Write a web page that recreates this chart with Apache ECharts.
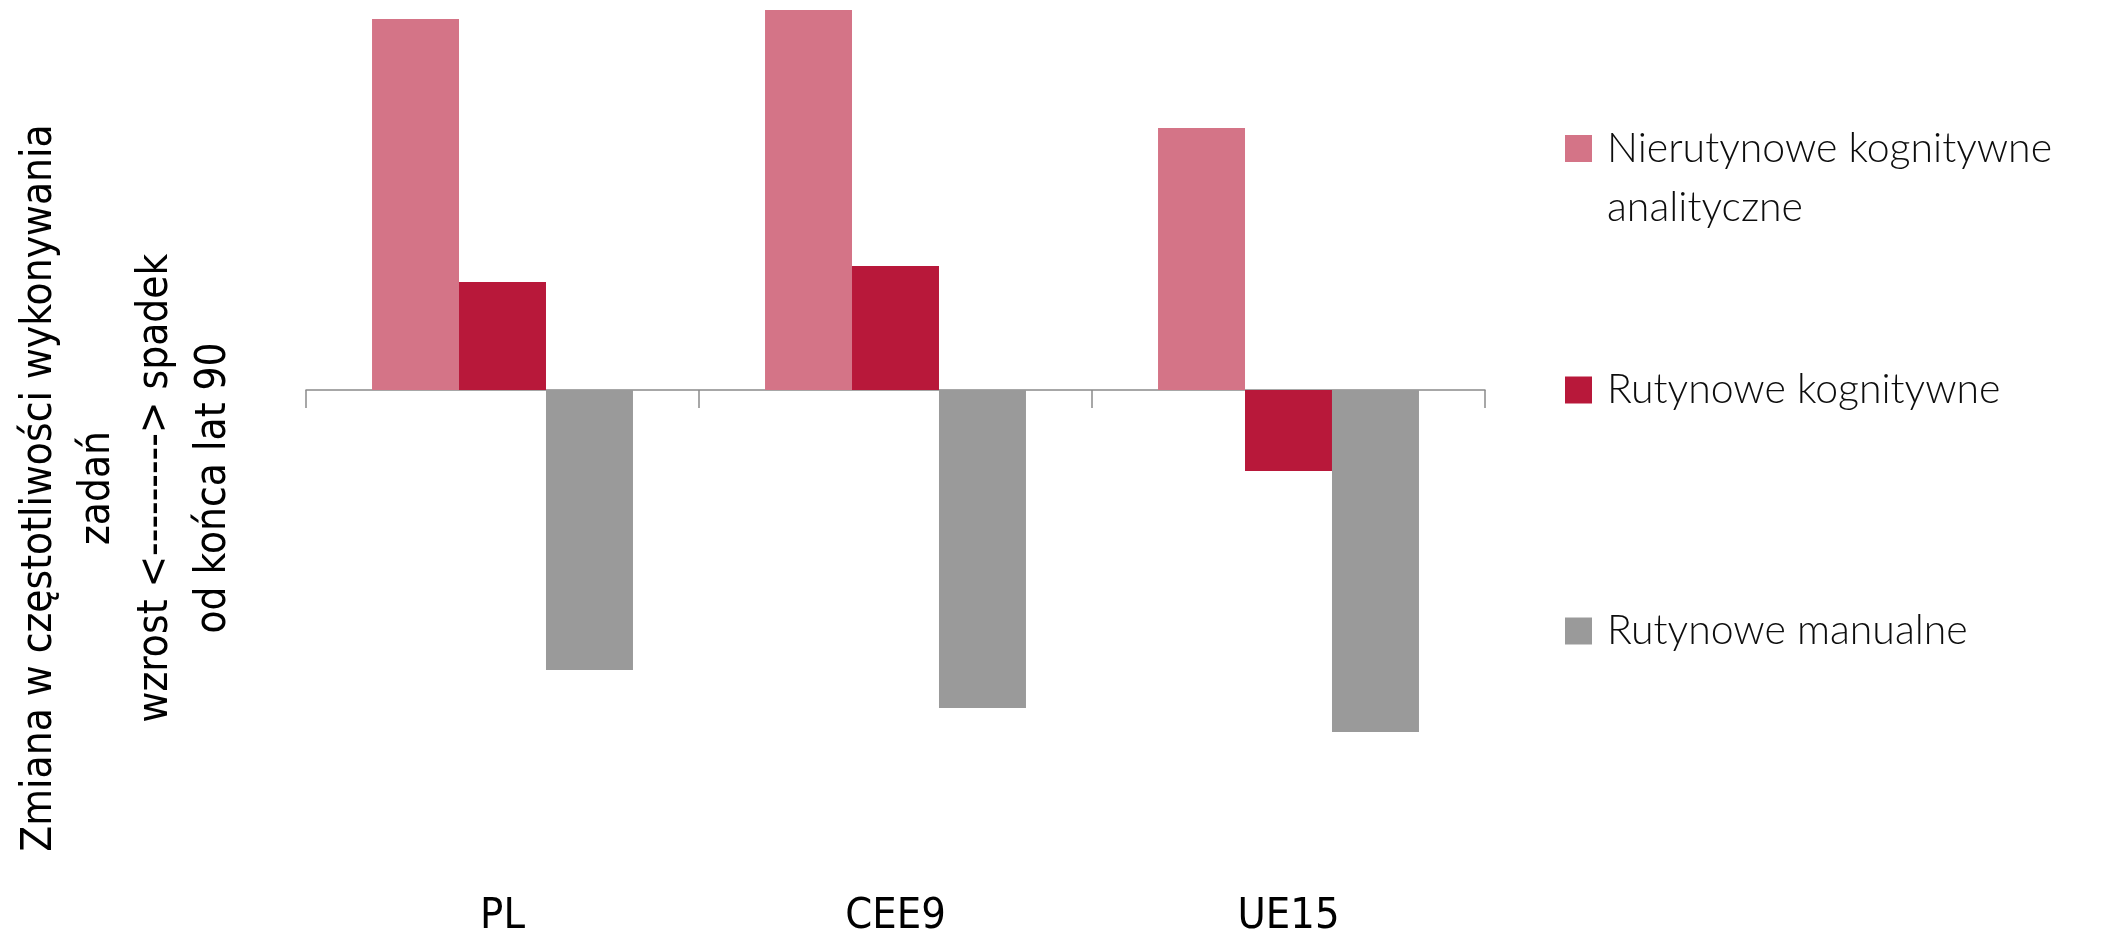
<!DOCTYPE html>
<html>
<head>
<meta charset="utf-8">
<script src="https://cdn.jsdelivr.net/npm/echarts@6/dist/echarts.min.js"></script>
<style>
html,body{margin:0;padding:0;background:#fff;}
#chart{width:2106px;height:929px;}
</style>
</head>
<body>
<div id="chart"></div>
<script>
const categories = ['PL', 'CEE9', 'UE15'];
const seriesNames = ['Nierutynowe kognitywne analityczne', 'Rutynowe kognitywne', 'Rutynowe manualne'];
const nierutynoweKognitywneAnalityczne = [3.71, 3.80, 2.62];
const rutynoweKognitywne = [1.08, 1.24, -0.81];
const rutynoweManualne = [-2.80, -3.18, -3.42];
const colors = ['#D47487', '#B8183A', '#9A9A9A'];
const yTitle = 'Zmiana w częstotliwości wykonywania\nzadań\nwzrost <---------> spadek\nod końca lat 90';

const NARROW = '"Liberation Sans Narrow", "DejaVu Sans Condensed", "Roboto Condensed", Roboto, sans-serif';
const LEGENDFONT = 'Lato, "Open Sans", sans-serif';

const chart = echarts.init(document.getElementById('chart'), null, {renderer: 'canvas'});

function legendFor(i, top) {
  return {
    data: [seriesNames[i]],
    left: 1565,
    top: top,
    padding: 0,
    icon: 'rect',
    itemWidth: 27,
    itemHeight: 27,
    selectedMode: false,
    formatter: function (name) {
      if (name === seriesNames[0]) return '\nNierutynowe kognitywne\nanalityczne';
      return name;
    },
    textStyle: {
      fontFamily: LEGENDFONT,
      fontSize: 41,
      fontWeight: 300,
      color: '#0d0d0d',
      lineHeight: 59,
      padding: [0, 0, 0, 10]
    }
  };
}

const seriesData = [nierutynoweKognitywneAnalityczne, rutynoweKognitywne, rutynoweManualne];

chart.setOption({
  animation: false,
  backgroundColor: '#ffffff',
  grid: {left: 306, right: 621, top: 0, bottom: 99, containLabel: false, outerBoundsMode: 'none'},
  legend: [legendFor(0, 60), legendFor(1, 360.5), legendFor(2, 601.5)],
  xAxis: [
    {
      type: 'category',
      data: categories,
      axisLine: {show: true, onZero: true, lineStyle: {color: '#8a8a8a', width: 1.5}},
      axisTick: {show: true, length: 18, lineStyle: {color: '#8a8a8a', width: 1.5}},
      axisLabel: {show: false},
      splitLine: {show: false}
    },
    {
      type: 'category',
      data: categories,
      position: 'bottom',
      axisLine: {show: false, onZero: false},
      axisTick: {show: false},
      splitLine: {show: false},
      axisLabel: {
        show: true,
        margin: 64,
        fontFamily: NARROW,
        fontSize: 43,
        lineHeight: 46,
        color: '#000'
      }
    }
  ],
  yAxis: {
    type: 'value',
    min: -4.4,
    max: 3.9,
    axisLine: {show: false},
    axisTick: {show: false},
    axisLabel: {show: false},
    splitLine: {show: false},
    name: yTitle,
    nameLocation: 'middle',
    nameRotate: 90,
    nameGap: 63,
    nameTextStyle: {
      fontFamily: NARROW,
      fontSize: 42,
      lineHeight: 58,
      color: '#000',
      align: 'center',
      padding: [0, 146, 0, 0]
    }
  },
  series: seriesNames.map(function (n, i) {
    return {
      name: n,
      type: 'bar',
      data: seriesData[i],
      barGap: '0%',
      barCategoryGap: '33.6%',
      itemStyle: {color: colors[i]}
    };
  })
});
</script>
</body>
</html>
